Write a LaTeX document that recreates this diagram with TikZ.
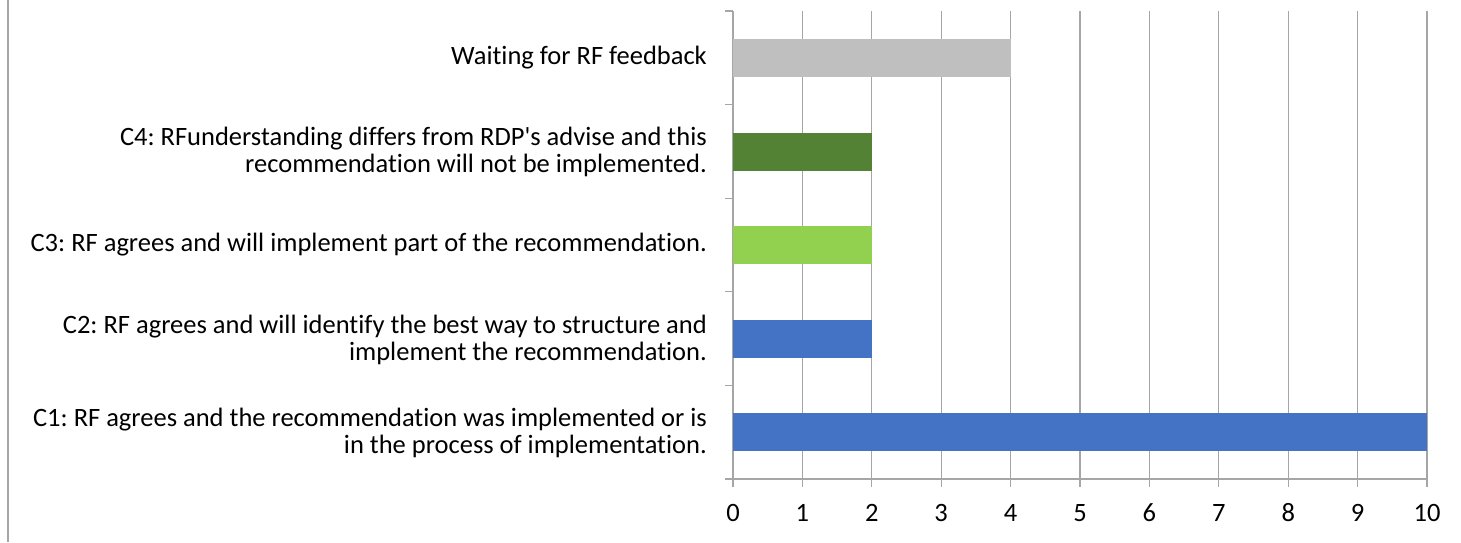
\documentclass[tikz,border=0pt]{standalone}
\usepackage{fontspec}
\setmainfont{Carlito}[Ligatures = NoCommon, Numbers = Lining]
\usepackage{xcolor}
\usepackage{tikz}
\frenchspacing
\definecolor{gridgray}{HTML}{A6A6A6}
\definecolor{waitgray}{HTML}{BFBFBF}
\definecolor{darkgreen}{HTML}{548235}
\definecolor{lightgreen}{HTML}{92D050}
\definecolor{barblue}{HTML}{4472C4}
\tikzset{
    catlabel/.style = {anchor = east, align = right, inner sep = 0pt,
        font = \fontsize{26.5}{27}\selectfont},
    numlabel/.style = {inner sep = 0pt, font = \fontsize{26.5}{27}\selectfont},
    gridline/.style = {draw = gridgray, line width = 1.1pt}
}
\begin{document}
\begin{tikzpicture}[x = 1pt, y = -1pt]
        \useasboundingbox (0, 0) rectangle (1461, 542);
        \draw[gridgray, line width = 1.2pt] (8, 0) -- (8, 542);

        \foreach \i in {1, ..., 10}
            \draw[gridline] ({733 + 69.4*\i}, 11) -- ({733 + 69.4*\i}, 487);
        \draw[gridline] (733, 11) -- (733, 487);
        \draw[gridline] (725, 479) -- (1427, 479);
        \foreach \t in {11, 104.6, 198.2, 291.8, 385.4}
            \draw[gridline] (725, \t) -- (733, \t);

        \fill[waitgray] (733, 39) rectangle (1010.6, 77);
        \fill[darkgreen] (733, 132.5) rectangle (871.8, 170.5);
        \fill[lightgreen] (733, 226) rectangle (871.8, 264);
        \fill[barblue] (733, 319.5) rectangle (871.8, 357.5);
        \fill[barblue] (733, 413) rectangle (1427, 451);

        \node[catlabel] (wait) at (707, 57.5) {Waiting for RF feedback};
        \node[catlabel] (c4) at (707, 152) {C4: RFunderstanding differs from RDP\textquotesingle s advise and this\\recommendation will not be implemented.};
        \node[catlabel] (c3) at (707, 245) {C3: RF agrees and will implement part of the recommendation.};
        \node[catlabel] (c2) at (707, 339.5) {C2: RF agrees and will identify the best way to structure and\\implement the recommendation.};
        \node[catlabel] (c1) at (707, 433) {C1: RF agrees and the recommendation was implemented or is\\in the process of implementation.};

        \foreach \i in {0, ..., 10}
            \node[numlabel] (n\i) at ({733 + 69.4*\i}, 513) {\i};
    \end{tikzpicture}
\end{document}
